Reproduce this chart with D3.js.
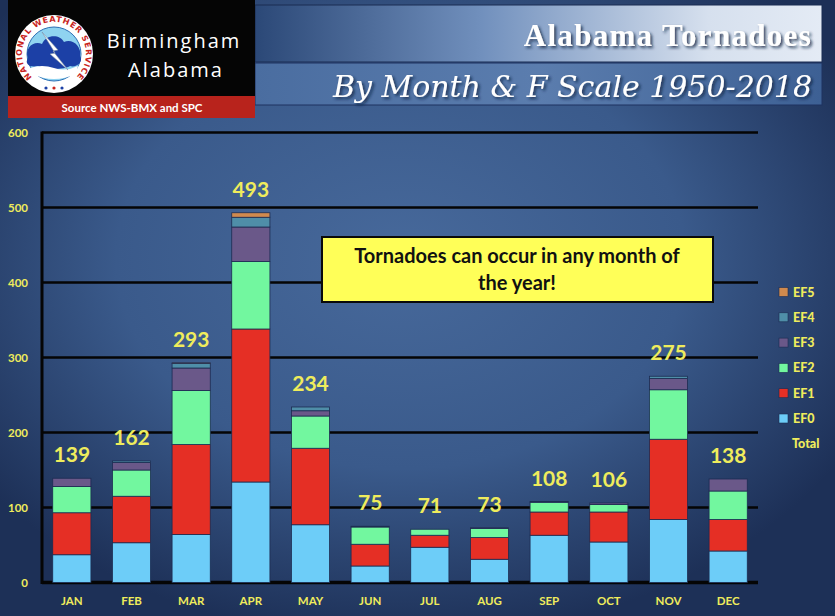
<!DOCTYPE html>
<html>
<head>
<meta charset="utf-8">
<title>Alabama Tornadoes</title>
<script src="https://cdn.jsdelivr.net/npm/d3@7"></script>
<style>
  body { margin: 0; background: #1e3158; }
  svg { display: block; }
</style>
</head>
<body>
<svg id="chart" width="835" height="616"></svg>
<script>
  // data
  var months = ["JAN","FEB","MAR","APR","MAY","JUN","JUL","AUG","SEP","OCT","NOV","DEC"];
  var ef0 = [37, 53, 64, 134, 77, 22, 47, 31, 63, 54, 84, 42];
  var ef1 = [56, 62, 120, 204, 102, 29, 16, 29, 31, 40, 107, 42];
  var ef2 = [35, 35, 72, 90, 43, 23, 8, 12, 13, 10, 66, 38];
  var ef3 = [11, 10, 30, 46, 7, 1, 0, 1, 1, 2, 15, 16];
  var ef4 = [0, 2, 6, 13, 5, 0, 0, 0, 0, 0, 3, 0];
  var ef5 = [0, 0, 1, 6, 0, 0, 0, 0, 0, 0, 0, 0];
  var totals = [139, 162, 293, 493, 234, 75, 71, 73, 108, 106, 275, 138];
  var seriesNames = ["EF0","EF1","EF2","EF3","EF4","EF5"];
  var yTicks = [0, 100, 200, 300, 400, 500, 600];

  var colr = {EF0:"#6dcdf8", EF1:"#e52f25", EF2:"#72f79f", EF3:"#6a5889", EF4:"#4f8ea8", EF5:"#d08a4e"};
  var yellow = "#efec5c";

  var chart = d3.select("#chart");
  var svgWidth = 835, svgHeight = 616;
  var margin = {top: 132, bottom: 33, left: 42, right: 77};
  var defs = chart.append("defs");

  // background
  var bg = defs.append("radialGradient").attr("id","bg").attr("cx","48%").attr("cy","42%").attr("r","62%");
  bg.append("stop").attr("offset","0%").attr("stop-color","#47699b");
  bg.append("stop").attr("offset","55%").attr("stop-color","#3a5a8b");
  bg.append("stop").attr("offset","100%").attr("stop-color","#1d3057");
  chart.append("rect").attr("width",svgWidth).attr("height",svgHeight).style("fill","url(#bg)");

  var sh = defs.append("filter").attr("id","shadow").attr("x","-10%").attr("y","-30%").attr("width","120%").attr("height","160%");
  sh.append("feDropShadow").attr("dx",2).attr("dy",2).attr("stdDeviation",1.5).attr("flood-color","#10203c").attr("flood-opacity",0.8);

  // title bands
  var g1 = defs.append("linearGradient").attr("id","band1");
  g1.append("stop").attr("offset","0%").attr("stop-color","#2b4877");
  g1.append("stop").attr("offset","40%").attr("stop-color","#7190bd");
  g1.append("stop").attr("offset","80%").attr("stop-color","#d6e0ee");
  g1.append("stop").attr("offset","100%").attr("stop-color","#e4ebf5");
  var g2 = defs.append("linearGradient").attr("id","band2");
  g2.append("stop").attr("offset","0%").attr("stop-color","#4a6da0");
  g2.append("stop").attr("offset","50%").attr("stop-color","#5b7dae");
  g2.append("stop").attr("offset","100%").attr("stop-color","#3d6094");

  chart.append("rect").attr("x",255).attr("y",5).attr("width",567).attr("height",57)
       .style("fill","url(#band1)").style("stroke","#1a2d52").style("stroke-width",1);
  chart.append("rect").attr("x",255).attr("y",63).attr("width",567).attr("height",42)
       .style("fill","url(#band2)").style("stroke","#1e3360").style("stroke-width",1);
  chart.append("text").attr("x",812).attr("y",46).text("Alabama Tornadoes")
       .attr("filter","url(#shadow)")
       .style("font-family","'Liberation Serif', 'DejaVu Serif', serif").style("font-weight","bold")
       .style("font-size","31px").style("letter-spacing","1.3px")
       .style("fill","#ffffff").style("text-anchor","end");
  chart.append("text").attr("x",812).attr("y",97).text("By Month & F Scale 1950-2018")
       .attr("filter","url(#shadow)")
       .style("font-family","'DejaVu Serif', 'Liberation Serif', serif").style("font-style","italic")
       .style("font-size","30px").style("fill","#ffffff").style("text-anchor","end");

  // logo block
  chart.append("rect").attr("x",8).attr("y",0).attr("width",247).attr("height",96).style("fill","#050505");
  chart.append("rect").attr("x",8).attr("y",96).attr("width",247).attr("height",22).style("fill","#b8231c");
  chart.append("text").attr("x",132).attr("y",112).text("Source NWS-BMX and SPC")
       .style("font-family","Lato, 'Open Sans', sans-serif").style("font-weight","bold")
       .style("font-size","11.5px").style("fill","#ffffff").style("text-anchor","middle");
  chart.append("text").attr("x",174).attr("y",48).text("Birmingham")
       .style("font-family","'Open Sans', Lato, sans-serif").style("font-size","20px").style("letter-spacing","2px")
       .style("fill","#ffffff").style("text-anchor","middle");
  chart.append("text").attr("x",176).attr("y",77).text("Alabama")
       .style("font-family","'Open Sans', Lato, sans-serif").style("font-size","20px").style("letter-spacing","2px")
       .style("fill","#ffffff").style("text-anchor","middle");

  // NWS emblem
  var lg = chart.append("g").attr("transform","translate(54,54)");
  lg.append("circle").attr("r",39).style("fill","#ffffff");
  lg.append("circle").attr("r",27).style("fill","#8fd3f0").style("stroke","#2b6fb5").style("stroke-width",1);
  lg.append("path").attr("d","M-26,4 C-30,-6 -20,-14 -12,-10 C-8,-20 6,-20 10,-12 C18,-16 28,-8 26,2 C30,8 22,14 16,12 C10,16 -10,16 -16,12 C-24,14 -30,10 -26,4 Z")
    .style("fill","#1c40a6");
  lg.append("path").attr("d","M-24,14 Q-12,10 0,14 Q12,18 24,12 L22,20 Q0,30 -22,20 Z").style("fill","#ffffff");
  lg.append("path").attr("d","M-12,-22 L4,-4 L-1,-3 L14,16 L-4,0 L1,-1 Z").style("fill","#ffffff").style("stroke","#7b8fa8").style("stroke-width",0.6);
  // ring from lower-left, over the top, to lower-right
  defs.append("path").attr("id","ring").attr("d","M-22.6,22.6 A32,32 0 1,1 22.6,22.6");
  lg.append("text").append("textPath").attr("href","#ring").attr("startOffset","50%")
    .text("NATIONAL WEATHER SERVICE")
    .style("font-family","'DejaVu Sans', sans-serif").style("font-weight","bold").style("font-size","8px")
    .style("letter-spacing","0.8px")
    .style("fill","#c8241c").style("text-anchor","middle");
  [-8, 0, 8].forEach(function(dx) {
    lg.append("circle").attr("cx",dx).attr("cy",34).attr("r",1.6).style("fill", dx === 0 ? "#c8241c" : "#1c40a6");
  });

  // scales
  var x = d3.scaleBand().domain(months).range([margin.left, svgWidth - margin.right]).paddingInner(0.36).paddingOuter(0.18);
  var y = d3.scaleLinear().domain([0, 600]).range([svgHeight - margin.bottom - 0.5, margin.top + 0.5]);

  // grid lines
  chart.append("g").selectAll("line").data(yTicks).enter().append("line")
       .attr("x1",margin.left).attr("x2",svgWidth - margin.right)
       .attr("y1",function(d){ return y(d); }).attr("y2",function(d){ return y(d); })
       .style("stroke","#050505").style("stroke-width",function(d){ return d === 0 ? 3.5 : 2.5; });
  chart.append("line").attr("x1",margin.left).attr("x2",margin.left).attr("y1",y(600)-1).attr("y2",y(0)+1.5)
       .style("stroke","#050505").style("stroke-width",3);

  // y labels
  var yAxis = d3.axisLeft(y).tickValues(yTicks).tickSize(0).tickPadding(0);
  var ya = chart.append("g").attr("transform","translate(28,0)").call(yAxis);
  ya.select(".domain").remove();
  ya.selectAll("text").style("font-family","Lato, 'Open Sans', sans-serif").style("font-weight","bold")
    .style("font-size","11.5px").style("fill",yellow);

  // x labels
  var xAxis = d3.axisBottom(x).tickSize(0).tickPadding(0);
  var xa = chart.append("g").attr("transform","translate(0,597)").call(xAxis);
  xa.select(".domain").remove();
  xa.selectAll("text").style("font-family","Lato, 'Open Sans', sans-serif").style("font-weight","bold")
    .style("font-size","11.5px").style("fill",yellow);

  // stacked bars
  var table = months.map(function(m, i) {
    return {month:m, EF0:ef0[i], EF1:ef1[i], EF2:ef2[i], EF3:ef3[i], EF4:ef4[i], EF5:ef5[i]};
  });
  var stacked = d3.stack().keys(seriesNames)(table);
  chart.append("g").selectAll("g").data(stacked).enter().append("g")
       .style("fill",function(d){ return colr[d.key]; })
       .selectAll("rect").data(function(d){ return d; }).enter().append("rect")
       .filter(function(d){ return d[1] - d[0] > 0; })
       .attr("x",function(d){ return x(d.data.month); })
       .attr("width",x.bandwidth())
       .attr("y",function(d){ return y(d[1]); })
       .attr("height",function(d){ return y(d[0]) - y(d[1]); })
       .style("stroke","#1c2c52").style("stroke-width",0.8);

  // totals
  chart.append("g").selectAll("text").data(totals).enter().append("text")
       .attr("x",function(d, i){ return x(months[i]) + x.bandwidth()/2; })
       .attr("y",function(d){ return y(d) - 16; })
       .text(function(d){ return d; })
       .style("font-family","Lato, 'Open Sans', sans-serif").style("font-weight","bold")
       .style("font-size","21px").style("fill",yellow).style("text-anchor","middle");

  // callout
  chart.append("rect").attr("x",322).attr("y",237).attr("width",391).attr("height",65)
       .style("fill","#ffff58").style("stroke","#0a0a0a").style("stroke-width",2);
  chart.append("text").attr("x",517).attr("y",263).text("Tornadoes can occur in any month of")
       .style("font-family","Lato, 'Open Sans', sans-serif").style("font-weight","bold")
       .style("font-size","20px").style("fill","#111111").style("text-anchor","middle");
  chart.append("text").attr("x",517).attr("y",290).text("the year!")
       .style("font-family","Lato, 'Open Sans', sans-serif").style("font-weight","bold")
       .style("font-size","20px").style("fill","#111111").style("text-anchor","middle");

  // legend
  var legendItems = ["EF5","EF4","EF3","EF2","EF1","EF0","Total"];
  var lgd = chart.append("g").selectAll("g").data(legendItems).enter().append("g")
       .attr("transform",function(d, i){ return "translate(779," + (292 + i*25.3) + ")"; });
  lgd.filter(function(d){ return d !== "Total"; }).append("rect")
       .attr("x",0).attr("y",-4.5).attr("width",9).attr("height",9)
       .style("fill",function(d){ return colr[d]; }).style("stroke","#1c2c52").style("stroke-width",0.6);
  lgd.append("text").attr("x",function(d){ return d === "Total" ? 13 : 14; }).attr("y",4.5)
       .text(function(d){ return d; })
       .style("font-family","Lato, 'Open Sans', sans-serif").style("font-weight","900")
       .style("font-size","12.5px").style("fill",yellow);
</script>
</body>
</html>
